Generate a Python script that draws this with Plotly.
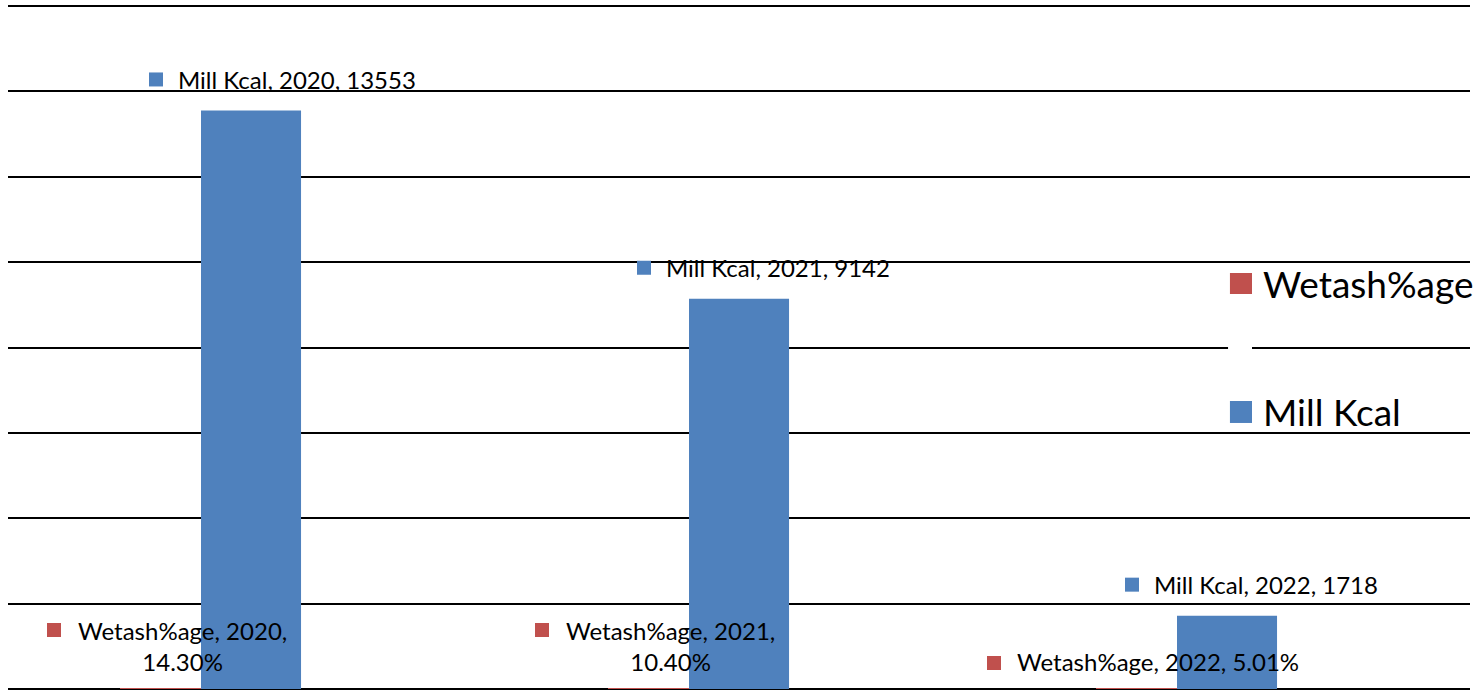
import plotly.graph_objects as go

# Chart data
years = [2020, 2021, 2022]
mill_kcal = [13553, 9142, 1718]
wetash_pct = [14.30, 10.40, 5.01]
series_names = ["Wetash%age", "Mill Kcal"]
wetash_wrap = [True, True, False]  # label breaks onto a second line
y_max = 16000

BLUE = "#4F81BD"
RED = "#C0504D"
FONT = "Lato"

fig = go.Figure()

# Wetash bars sit just left of each category centre, Mill Kcal bars just right
fig.add_trace(go.Bar(x=years, y=wetash_pct, name=series_names[0],
                     marker=dict(color=RED, line=dict(width=0)),
                     offset=-0.166, width=0.166, showlegend=False))
fig.add_trace(go.Bar(x=years, y=mill_kcal, name=series_names[1],
                     marker=dict(color=BLUE, line=dict(width=0)),
                     offset=0.0, width=0.205, showlegend=False))

annotations = []
shapes = []

# top gridline along the upper edge of the plot area (axis maximum)
shapes.append(dict(type="line", xref="paper", yref="paper", x0=0, x1=1,
                   y0=1, y1=1, line=dict(color="#000", width=2),
                   layer="below"))

# Mill Kcal value labels with legend keys
for yr, v in zip(years, mill_kcal):
    annotations.append(dict(x=yr, y=v, xref="x", yref="y",
                            text=f"{series_names[1]}, {yr}, {v}",
                            showarrow=False, xanchor="left", yanchor="middle",
                            xshift=-25, yshift=31,
                            font=dict(family=FONT, size=24, color="#000")))
    shapes.append(dict(type="rect", xref="x", yref="y",
                       xsizemode="pixel", ysizemode="pixel",
                       xanchor=yr, yanchor=v,
                       x0=-52, x1=-38, y0=24, y1=38,
                       fillcolor=BLUE, line=dict(width=0)))

# Wetash value labels with legend keys
for yr, v, wrap in zip(years, wetash_pct, wetash_wrap):
    sep = ",<br>" if wrap else ", "
    annotations.append(dict(x=yr, y=0, xref="x", yref="y",
                            text=f"{series_names[0]}, {yr}{sep}{v:.2f}%",
                            showarrow=False, xanchor="center", yanchor="bottom",
                            xshift=-19, yshift=11, align="center",
                            font=dict(family=FONT, size=24, color="#000")))
    if wrap:
        kx0, ky0 = -154, 52
    else:
        kx0, ky0 = -190, 19
    shapes.append(dict(type="rect", xref="x", yref="y",
                       xsizemode="pixel", ysizemode="pixel",
                       xanchor=yr, yanchor=0,
                       x0=kx0, x1=kx0 + 14, y0=ky0, y1=ky0 + 14,
                       fillcolor=RED, line=dict(width=0)))

# Legend on the right
legend_items = [(series_names[0], RED, 0.5783, 0.6091),
                (series_names[1], BLUE, 0.3895, 0.4217)]
for name, col, y0, y1 in legend_items:
    shapes.append(dict(type="rect", xref="paper", yref="paper",
                       x0=0.8358, x1=0.8509, y0=y0, y1=y1,
                       fillcolor=col, line=dict(width=0), layer="above"))
    annotations.append(dict(x=0.857, y=(y0 + y1) / 2, xref="paper", yref="paper",
                            text=name, showarrow=False,
                            xanchor="left", yanchor="middle",
                            font=dict(family=FONT, size=37, color="#000")))
# small blank behind the legend key column
shapes.append(dict(type="rect", xref="paper", yref="paper",
                   x0=0.8345, x1=0.8509, y0=0.4963, y1=0.5051,
                   fillcolor="white", line=dict(width=0), layer="above"))

fig.update_layout(
    width=1484, height=691,
    margin=dict(l=8, r=14, t=6, b=2),
    paper_bgcolor="white", plot_bgcolor="white",
    barmode="overlay",
    showlegend=False,
    xaxis=dict(type="linear", range=[2019.6045, 2022.6004],
               showticklabels=False, showgrid=False, zeroline=False,
               showline=False, fixedrange=True),
    yaxis=dict(range=[0, y_max], dtick=2000, tick0=0,
               showticklabels=False, showgrid=True,
               gridcolor="#000", gridwidth=2,
               zeroline=True, zerolinecolor="#000", zerolinewidth=2,
               showline=False, fixedrange=True),
    annotations=annotations,
    shapes=shapes,
)

fig.write_html("out.html")
